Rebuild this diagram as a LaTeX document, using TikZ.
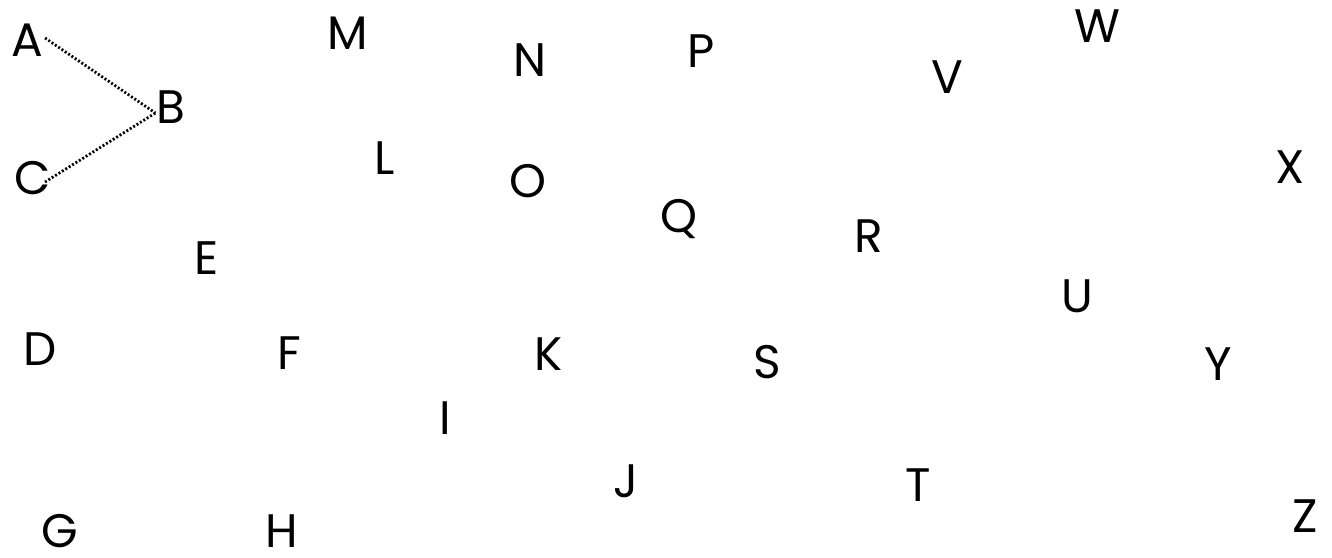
\documentclass[tikz,border=0pt]{standalone}
\usepackage{fontspec}
\setmainfont{Poppins}
\begin{document}
\begin{tikzpicture}[x=1pt,y=-1pt,
  lt/.style={inner sep=0pt,font=\fontsize{47}{47}\selectfont},
  dots/.style={line width=2.8pt,dash pattern=on 2pt off 2pt}]
\useasboundingbox (0,0) rectangle (1332,557);
\node[lt] (A) at (27,40) {A};
\node[lt] (B) at (171,107) {B};
\node[lt] (C) at (33,178) {C};
\node[lt] (M) at (348,33) {M};
\node[lt] (N) at (530,60) {N};
\node[lt] (P) at (701,51) {P};
\node[lt] (V) at (947,77) {V};
\node[lt] (W) at (1097,26) {W};
\node[lt] (X) at (1290,167) {X};
\node[lt] (L) at (385,158) {L};
\node[lt] (O) at (528,181) {O};
\node[lt] (Q) at (679,219) {Q};
\node[lt] (R) at (869,236) {R};
\node[lt] (E) at (207,258) {E};
\node[lt] (U) at (1077,296) {U};
\node[lt] (D) at (40,349) {D};
\node[lt] (F) at (289,353) {F};
\node[lt] (K) at (549,354) {K};
\node[lt] (S) at (767,362) {S};
\node[lt] (Y) at (1218,364) {Y};
\node[lt] (I) at (445,418) {I};
\node[lt] (J) at (626,481) {J};
\node[lt] (T) at (918,485) {T};
\node[lt] (G) at (60,531) {G};
\node[lt] (H) at (282,531) {H};
\node[lt] (Z) at (1305,516) {Z};
\coordinate (a1) at ([xshift=2pt,yshift=2pt]A.east);
\coordinate (b1) at ([xshift=-1pt,yshift=-6pt]B.west);
\coordinate (c1) at ([xshift=12pt,yshift=-4pt]C.center);
\draw[dots] (a1) -- (b1);
\draw[dots] (c1) -- (b1);
\end{tikzpicture}
\end{document}
